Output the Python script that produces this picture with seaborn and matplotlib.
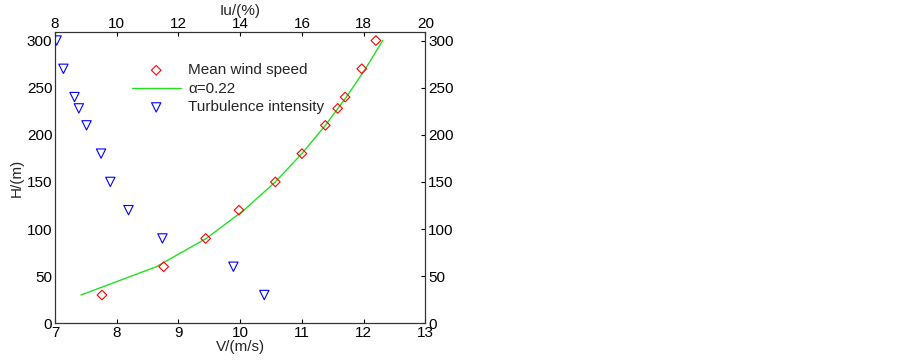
import matplotlib
matplotlib.use("Agg")
import matplotlib.pyplot as plt
import seaborn as sns
import pandas as pd

# measured heights (m)
heights = [30, 60, 90, 120, 150, 180, 210, 228, 240, 270, 300]
# mean wind speed (m/s)
mean_speed = [7.76, 8.76, 9.44, 9.98, 10.57, 11.0, 11.38, 11.58, 11.70, 11.97, 12.2]
# turbulence intensity (%)
turb_int = [14.78, 13.78, 11.48, 10.38, 9.79, 9.49, 9.02, 8.77, 8.63, 8.27, 8.05]

# power law profile, alpha = 0.22
fit_heights = [30, 60, 90, 120, 150, 180, 210, 240, 270, 300]
fit_speed = [7.42, 8.64, 9.45, 10.06, 10.57, 11.00, 11.38, 11.72, 12.03, 12.31]

sns.set_style("white")
plt.rcParams['font.family'] = ['Liberation Sans', 'DejaVu Sans']
plt.rcParams['font.size'] = 11

fig = plt.figure(figsize=(9.03, 3.6), dpi=100)
ax = fig.add_axes([0.061, 0.102, 0.410, 0.809])

df_v = pd.DataFrame({'V': mean_speed, 'H': heights})
df_fit = pd.DataFrame({'V': fit_speed, 'H': fit_heights})
df_iu = pd.DataFrame({'Iu': turb_int, 'H': heights})

sns.scatterplot(data=df_v, x='V', y='H', ax=ax, marker='D', s=24,
                facecolor='none', edgecolor='#ff0000', linewidth=0.8,
                label='Mean wind speed', zorder=3)
sns.lineplot(data=df_fit, x='V', y='H', ax=ax, color='#22e022', linewidth=1.0,
             sort=False, estimator=None, label='\u03b1=0.22')

ax.set_xlim(7, 13)
ax.set_ylim(0, 309)
ax.set_xticks(range(7, 14))
ax.set_yticks(range(0, 301, 50))
ax.set_xlabel('V/(m/s)', labelpad=0)
ax.set_ylabel('H/(m)', labelpad=2)
ax.tick_params(direction='in', length=3, right=True, labelright=True,
               pad=2, colors='black')

ax2 = ax.twiny()
sns.scatterplot(data=df_iu, x='Iu', y='H', ax=ax2, marker='v', s=45,
                facecolor='none', edgecolor='#0000ff', linewidth=0.8,
                label='Turbulence intensity', zorder=3)
ax2.set_xlim(8, 20)
ax2.set_xticks(range(8, 21, 2))
ax2.set_xlabel('Iu/(%)')
ax2.xaxis.set_label_coords(0.5, 1.058)
ax2.tick_params(direction='in', length=3, pad=1, colors='black')
ax2.set_ylim(0, 309)

for a in (ax, ax2):
    for s in a.spines.values():
        s.set_color('#333333')
        s.set_linewidth(0.8)

h1, l1 = ax.get_legend_handles_labels()
h2, l2 = ax2.get_legend_handles_labels()
if ax.get_legend():
    ax.get_legend().remove()
if ax2.get_legend():
    ax2.get_legend().remove()
ax2.legend(h1 + h2, l1 + l2, loc='upper left', bbox_to_anchor=(0.17, 0.94),
           frameon=False, fontsize=11, handlelength=3.2, handletextpad=0.5,
           labelspacing=0.3)

fig.savefig('out.png', dpi=100, facecolor='white')
